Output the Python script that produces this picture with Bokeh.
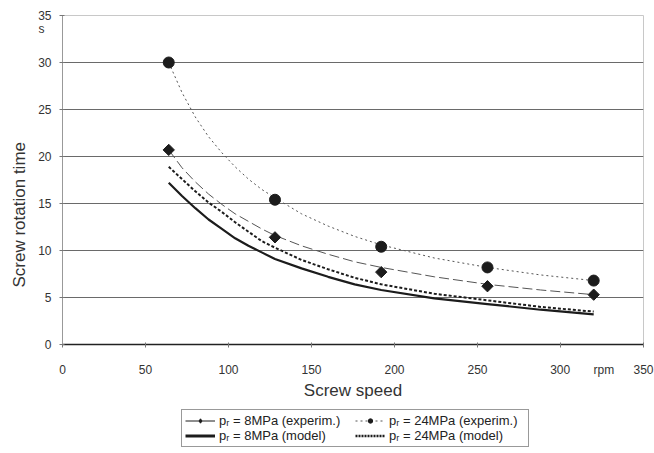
import math

from bokeh.plotting import figure
from bokeh.layouts import column
from bokeh.models import Legend, LegendItem, LinearAxis, FixedTicker, Title
from bokeh.embed import file_html
from bokeh.resources import INLINE

# Measured screw rotation times (s) at the tested screw speeds (rpm)
speed_meas = [64, 128, 192, 256, 320]
t_exp_8 = [20.7, 11.4, 7.7, 6.2, 5.3]
t_exp_24 = [30.0, 15.4, 10.4, 8.2, 6.8]

# Trend lines through the measurements and model predictions
speed_curve = [64, 72, 80, 88, 96, 104, 112, 120, 128, 144, 160, 176, 192, 224, 256, 288, 320]
t_fit_8 = [20.7, 18.8, 17.3, 16.0, 14.9, 13.9, 13.1, 12.3, 11.6, 10.5, 9.6, 8.8, 8.2, 7.2, 6.4, 5.8, 5.3]
t_fit_24 = [30.0, 26.8, 24.2, 22.1, 20.4, 18.9, 17.6, 16.5, 15.6, 13.9, 12.6, 11.5, 10.6, 9.2, 8.2, 7.4, 6.8]
t_model_8 = [17.2, 15.8, 14.5, 13.3, 12.3, 11.3, 10.5, 9.8, 9.1, 8.1, 7.2, 6.4, 5.8, 4.9, 4.3, 3.7, 3.2]
t_model_24 = [18.9, 17.6, 16.3, 15.1, 14.1, 13.0, 12.0, 11.0, 10.3, 9.0, 8.0, 7.1, 6.4, 5.4, 4.7, 4.0, 3.5]

x_ticks = [0, 50, 100, 150, 200, 250, 300, 350]
y_ticks = [0, 5, 10, 15, 20, 25, 30, 35]
time_unit_at = 33.6

legend_labels = [
    "pᵣ = 8MPa (experim.)",
    "pᵣ = 24MPa (experim.)",
    "pᵣ = 8MPa (model)",
    "pᵣ = 24MPa (model)",
]

FONT = "Liberation Sans"
INK = "#1c1c1c"
TXT = "#333333"
NB = "\u00a0"

# ---------------------------------------------------------------- main chart
p = figure(
    width=654, height=405,
    x_range=(0, 350), y_range=(0, 35),
    output_backend="svg", toolbar_location=None,
    min_border_left=62, min_border_right=11,
    min_border_top=15, min_border_bottom=61,
)
p.background_fill_color = "white"
p.border_fill_color = "white"
p.outline_line_color = "#c8c8c8"
p.outline_line_width = 1

p.xaxis.ticker = FixedTicker(ticks=x_ticks)
p.yaxis.ticker = FixedTicker(ticks=y_ticks)
# speed unit written after the 300 label, keeping "300" centred on its tick
p.xaxis.major_label_overrides = {300: NB * 13 + "300" + NB * 7 + "rpm"}
for ax in (p.xaxis[0], p.yaxis[0]):
    ax.major_label_text_font = FONT
    ax.major_label_text_font_size = "12px"
    ax.major_label_text_color = TXT
    ax.minor_tick_line_color = None
    ax.major_tick_in = 2
    ax.major_tick_out = 3
    ax.major_tick_line_color = "#777777"
p.xaxis.axis_line_color = "#222222"
p.xaxis.axis_line_width = 1.3
p.yaxis.axis_line_color = "#999999"
p.xaxis.major_label_standoff = 15
p.yaxis.major_label_standoff = 8
p.xaxis.axis_label = "Screw speed"
p.xaxis.axis_label_text_font = FONT
p.xaxis.axis_label_text_font_size = "17px"
p.xaxis.axis_label_text_font_style = "normal"
p.xaxis.axis_label_text_color = TXT
p.xaxis.axis_label_standoff = 1

# time unit "s" below the top tick label
unit_axis = LinearAxis(
    ticker=FixedTicker(ticks=[time_unit_at]),
    major_label_overrides={time_unit_at: "s"},
    axis_line_color=None, major_tick_line_color=None, minor_tick_line_color=None,
    major_tick_in=0, major_tick_out=0, major_label_standoff=-9,
    major_label_text_font=FONT, major_label_text_font_size="12px",
    major_label_text_color=TXT,
)
p.add_layout(unit_axis, "left")

p.add_layout(Title(text="Screw rotation time", align="left", offset=57,
                   text_font=FONT, text_font_size="17px", text_font_style="normal",
                   text_color=TXT, standoff=13), "left")

p.xgrid.grid_line_color = None
p.ygrid.ticker = FixedTicker(ticks=y_ticks)
p.ygrid.grid_line_color = "#6a6a6a"
p.ygrid.grid_line_width = 1

line_styles = {
    "fit8": dict(line_color="#555555", line_width=1, line_dash="10 4"),
    "fit24": dict(line_color="#555555", line_width=1, line_dash="2 3"),
    "mod8": dict(line_color=INK, line_width=2.2),
    "mod24": dict(line_color=INK, line_width=2, line_dash="3 2"),
}
diamond_style = dict(marker="square", angle=math.pi / 4, size=8, fill_color=INK, line_color=INK)
circle_style = dict(marker="circle", size=11, fill_color=INK, line_color=INK)

p.line(speed_curve, t_fit_8, **line_styles["fit8"])
p.line(speed_curve, t_fit_24, **line_styles["fit24"])
p.line(speed_curve, t_model_8, **line_styles["mod8"])
p.line(speed_curve, t_model_24, **line_styles["mod24"])
p.scatter(speed_meas, t_exp_8, **diamond_style)
p.scatter(speed_meas, t_exp_24, **circle_style)

# ---------------------------------------------------------------- legend strip
# the same series are drawn here only to feed the legend; the unit ranges keep
# them outside the visible frame
lg = figure(
    width=654, height=48,
    x_range=(0, 1), y_range=(0, 1),
    output_backend="svg", toolbar_location=None,
    min_border=0,
)
lg.axis.visible = False
lg.grid.grid_line_color = None
lg.outline_line_color = None
lg.border_fill_color = "white"

k_fit8 = lg.line(speed_curve, t_fit_8, line_color=INK, line_width=1)
k_pts8 = lg.scatter(speed_meas, t_exp_8, marker="diamond", size=12, fill_color=INK, line_color=INK)
k_fit24 = lg.line(speed_curve, t_fit_24, **line_styles["fit24"])
k_pts24 = lg.scatter(speed_meas, t_exp_24, **circle_style)
k_mod8 = lg.line(speed_curve, t_model_8, line_color=INK, line_width=3)
k_mod24 = lg.line(speed_curve, t_model_24, line_color=INK, line_width=2.5, line_dash="2 1")

legend = Legend(
    items=[
        LegendItem(label=legend_labels[0], renderers=[k_fit8, k_pts8]),
        LegendItem(label=legend_labels[2], renderers=[k_mod8]),
        LegendItem(label=legend_labels[1], renderers=[k_fit24, k_pts24]),
        LegendItem(label=legend_labels[3], renderers=[k_mod24]),
    ],
    ncols=2,
    location=(119, 6),
    label_text_font=FONT,
    label_text_font_size="13px",
    label_text_color="#222222",
    label_height=11,
    label_width=136,
    glyph_height=11,
    glyph_width=30,
    label_standoff=4,
    spacing=0,
    padding=3,
    margin=0,
    border_line_color="#333333",
    border_line_width=1,
    background_fill_color="white",
)
lg.add_layout(legend, "center")

open("out.html", "w").write(file_html(column(p, lg, spacing=0), INLINE))
